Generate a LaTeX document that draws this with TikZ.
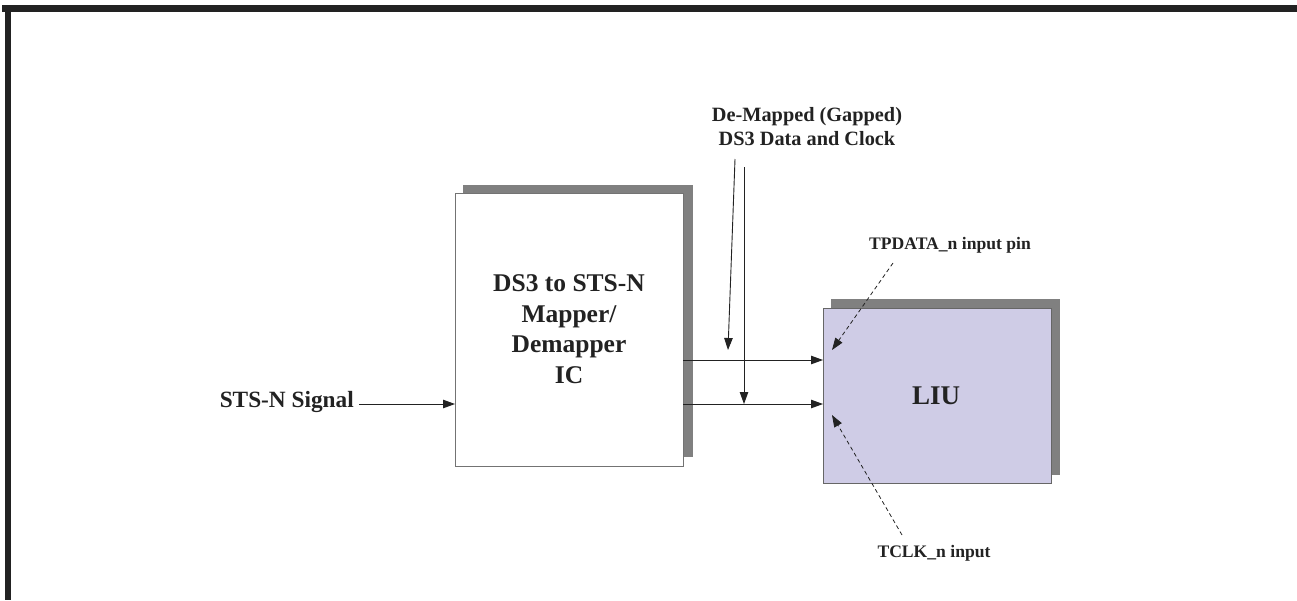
\documentclass[tikz,border=0pt]{standalone}
\usepackage{fontspec}
\setmainfont{Liberation Serif}
\usetikzlibrary{arrows.meta}
\definecolor{shadowgray}{HTML}{808080}
\definecolor{liufill}{HTML}{CFCCE6}
\definecolor{ink}{HTML}{222222}
\begin{document}
\begin{tikzpicture}[x=1pt,y=-1pt,
  tip/.style={-{Triangle[length=12pt,width=8.5pt]}},
  conn/.style={draw=ink,line width=0.9pt,tip},
  dconn/.style={draw=ink,line width=0.8pt,dash pattern=on 4pt off 3pt,tip},
  lbl/.style={font=\bfseries\fontsize{20.3}{24}\selectfont,text=ink,align=center,inner sep=0pt},
  small/.style={font=\bfseries\fontsize{17.6}{20}\selectfont,text=ink,align=center,inner sep=0pt}]
\useasboundingbox (0,0) rectangle (1297,600);
% frame
\fill[ink] (2,5) rectangle (1297,12);
\fill[ink] (5,5) rectangle (11,600);
% mapper box
\fill[shadowgray] (463,185) rectangle (693,457);
\draw[fill=white,draw=gray!90!black,line width=0.8pt] (455,193) rectangle (683,466);
\node[lbl,font=\bfseries\fontsize{25.5}{30.5}\selectfont] (map) at (569,329) {DS3 to STS-N\\Mapper/\\Demapper\\IC};
% LIU box
\fill[shadowgray] (831,299) rectangle (1060,475);
\draw[fill=liufill,draw=gray!80!black,line width=0.8pt] (823,308) rectangle (1051,483);
\node[lbl,font=\bfseries\fontsize{27}{30}\selectfont] (liu) at (936,396) {LIU};
% coordinates
\coordinate (mapin) at (455,404);
\coordinate (mapo1) at (683,360);
\coordinate (mapo2) at (683,404);
\coordinate (liui1) at (823,360);
\coordinate (liui2) at (823,404);
% STS-N
\node[lbl,font=\bfseries\fontsize{23.3}{25}\selectfont,anchor=base east] (sts) at (354,407) {STS-N Signal};
\coordinate (stsS) at (359,404);
\draw[conn] (stsS) -- (mapin);
% horizontal
\draw[conn] (mapo1) -- (liui1);
\draw[conn] (mapo2) -- (liui2);
% demapped label
\node[lbl] (dem) at (807,127) {De-Mapped (Gapped)\\DS3 Data and Clock};
\coordinate (d1s) at (735,159);
\coordinate (d1e) at (728,350);
\coordinate (d2s) at (744,167);
\coordinate (d2e) at (744,404);
\draw[conn] (d1s) -- (d1e);
\draw[conn] (d2s) -- (d2e);
% pin labels
\node[small] (tp) at (950,245) {TPDATA\_n input pin};
\node[small] (tc) at (934,553) {TCLK\_n input};
\coordinate (tps) at (893,263);
\coordinate (tpe) at (832,350);
\coordinate (tcs) at (902,535);
\coordinate (tce) at (832,415);
\draw[dconn] (tps) -- (tpe);
\draw[dconn] (tcs) -- (tce);
\end{tikzpicture}
\end{document}
